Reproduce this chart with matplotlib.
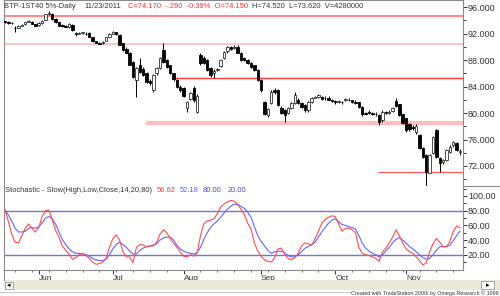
import numpy as np
import pandas as pd
import matplotlib
matplotlib.use("Agg")
import matplotlib.pyplot as plt
from matplotlib.ticker import MultipleLocator, FormatStrFormatter, FixedLocator
from matplotlib.patches import Rectangle
from matplotlib.lines import Line2D

plt.rcParams['font.family'] = ['Liberation Sans', 'DejaVu Sans']

# ---------- data ----------
dates = pd.bdate_range('2011-05-18', '2011-11-23')

opens = [
    93.85, 93.70, 93.65, 92.90, 92.90, 93.20, 93.40, 93.80, 93.80, 93.45,
    93.30, 93.60, 94.10, 95.00, 95.00, 94.20, 93.70, 93.30, 93.15, 93.00,
    93.30, 92.10, 92.00, 92.10, 92.00, 92.10, 91.40, 90.80, 90.60, 90.50,
    90.90, 91.50, 92.00, 92.20, 91.80, 90.50, 89.70, 89.10, 87.70, 85.00,
    87.20, 86.70, 86.00, 84.90, 83.40, 86.00, 86.80, 89.50, 88.00, 87.20,
    86.00, 85.00, 84.00, 83.80, 80.80, 82.10, 83.70, 80.20, 88.70, 88.30,
    88.00, 86.80, 86.00, 86.50, 87.10, 88.30, 89.30, 89.90, 89.80, 90.00,
    89.10, 88.30, 88.00, 87.50, 87.20, 86.50, 85.00, 81.60, 79.70, 81.50,
    83.40, 83.40, 80.80, 80.40, 80.00, 80.80, 81.50, 82.00, 81.50, 81.20,
    80.40, 81.70, 82.30, 82.40, 82.40, 82.20, 82.30, 82.00, 81.80, 81.70,
    81.70, 81.90, 82.00, 81.90, 81.70, 81.60, 80.90, 80.00, 80.10, 80.00,
    79.90, 79.70, 78.90, 80.10, 80.00, 80.30, 81.80, 81.30, 79.80, 79.20,
    78.30, 77.90, 77.10, 76.70, 74.70, 73.70, 71.00, 74.00, 77.40, 73.20,
    72.60, 72.90, 74.10, 75.10, 75.40, 74.15]
highs = [
    93.95, 93.85, 93.75, 93.10, 93.30, 93.40, 93.80, 94.10, 93.90, 93.50,
    93.70, 94.00, 95.00, 95.40, 95.10, 94.30, 93.80, 93.45, 93.30, 93.60,
    93.40, 92.30, 92.30, 92.30, 92.20, 92.20, 91.50, 90.90, 90.75, 90.80,
    91.50, 92.10, 92.40, 92.30, 91.90, 90.60, 89.90, 89.20, 87.90, 87.00,
    88.30, 86.90, 86.20, 85.10, 85.90, 87.00, 88.50, 90.60, 88.20, 87.30,
    86.10, 85.10, 84.20, 83.90, 81.80, 83.20, 84.10, 82.80, 89.00, 88.60,
    88.10, 87.00, 86.60, 86.80, 88.20, 89.40, 90.10, 90.10, 90.20, 90.30,
    89.20, 88.50, 88.20, 87.70, 87.30, 86.60, 85.10, 81.80, 80.80, 83.40,
    83.80, 83.60, 81.00, 80.60, 80.90, 81.70, 83.20, 82.20, 81.70, 81.30,
    81.80, 82.40, 82.60, 82.90, 82.60, 82.50, 82.50, 82.10, 82.00, 82.00,
    81.80, 82.30, 82.20, 82.00, 81.90, 81.70, 81.00, 80.20, 80.45, 80.10,
    80.10, 79.80, 80.40, 80.30, 80.40, 80.90, 82.30, 81.40, 79.90, 79.30,
    78.50, 78.20, 78.30, 76.80, 74.80, 73.80, 73.80, 76.60, 77.60, 73.40,
    73.10, 74.60, 75.10, 75.80, 75.60, 74.52]
lows = [
    93.60, 93.50, 93.45, 92.30, 92.80, 93.10, 93.30, 93.70, 93.40, 93.10,
    93.20, 93.50, 94.00, 94.80, 94.10, 93.60, 93.10, 92.95, 92.95, 92.90,
    92.40, 91.60, 91.90, 92.00, 91.80, 91.40, 90.70, 90.50, 90.40, 90.40,
    90.80, 91.40, 91.90, 91.80, 90.20, 89.40, 89.00, 87.20, 85.30, 82.40,
    86.00, 85.60, 84.50, 84.20, 83.10, 85.80, 86.60, 87.60, 86.80, 85.90,
    84.90, 83.80, 83.10, 82.40, 80.10, 81.90, 81.70, 80.00, 87.30, 87.40,
    86.30, 85.50, 85.30, 86.30, 87.00, 88.10, 89.10, 89.50, 89.60, 89.00,
    87.90, 87.80, 87.40, 86.80, 86.30, 84.90, 83.20, 79.70, 79.40, 81.30,
    82.90, 81.00, 79.80, 78.60, 79.80, 80.60, 81.30, 81.30, 80.70, 80.20,
    80.20, 81.50, 82.20, 82.30, 82.00, 82.00, 81.90, 81.60, 81.40, 81.50,
    81.40, 81.80, 81.80, 81.50, 81.40, 80.80, 79.60, 79.70, 79.80, 79.70,
    79.60, 78.20, 78.70, 79.80, 79.90, 80.10, 80.90, 79.60, 78.30, 77.20,
    77.30, 77.40, 76.90, 74.50, 73.20, 69.00, 70.90, 73.80, 73.20, 71.10,
    72.30, 72.70, 73.90, 74.90, 74.30, 73.62]
closes = [
    93.70, 93.65, 93.55, 92.80, 93.20, 93.30, 93.70, 93.95, 93.50, 93.20,
    93.60, 93.90, 94.90, 95.10, 94.20, 93.70, 93.20, 93.10, 93.05, 93.40,
    92.50, 92.00, 92.10, 92.15, 91.90, 91.50, 90.80, 90.60, 90.45, 90.70,
    91.40, 91.90, 92.20, 91.90, 90.30, 89.50, 89.10, 87.30, 85.50, 86.80,
    86.20, 85.80, 84.70, 84.50, 85.70, 86.80, 88.30, 87.70, 87.00, 86.00,
    85.10, 84.00, 83.40, 82.60, 81.60, 83.00, 81.90, 82.60, 87.50, 87.60,
    86.50, 85.80, 86.40, 86.60, 88.00, 89.20, 89.90, 89.70, 90.00, 89.10,
    88.00, 88.00, 87.60, 87.00, 86.50, 85.00, 83.50, 79.90, 80.60, 83.20,
    83.10, 81.20, 80.00, 79.70, 80.70, 81.50, 82.70, 81.50, 80.90, 80.40,
    81.60, 82.20, 82.40, 82.70, 82.10, 82.30, 82.00, 81.80, 81.60, 81.80,
    81.60, 82.10, 81.90, 81.70, 81.50, 80.90, 79.80, 79.90, 80.00, 79.90,
    79.80, 78.70, 80.20, 80.00, 80.20, 80.80, 81.00, 79.70, 78.50, 77.40,
    77.60, 77.70, 78.00, 74.70, 73.40, 71.10, 73.60, 76.40, 73.40, 72.50,
    72.90, 74.40, 74.90, 75.60, 74.46, 74.17]

# stochastic slow %K (red) and %D (blue)
stoch_k = [
    81, 65, 48, 37, 36, 46, 56, 62, 56, 51,
    57, 72, 80, 81, 68, 53, 44, 32, 26, 21,
    14, 16, 20, 22, 19, 15, 10, 7, 8, 10,
    15, 30, 42, 47, 40, 24, 17, 17, 9, 30,
    34, 33, 31, 32, 32, 37, 48, 54, 50, 42,
    36, 30, 24, 18, 17, 20, 18, 22, 46, 62,
    66, 67, 69, 76, 85, 89, 92, 94, 93, 89,
    82, 75, 63, 55, 36, 25, 18, 13, 11, 10,
    16, 28, 29, 21, 15, 13, 16, 22, 32, 36,
    35, 33, 42, 52, 63, 68, 71, 73, 72, 62,
    52, 56, 56, 54, 50, 30, 22, 20, 19, 17,
    15, 11, 24, 29, 36, 44, 54, 46, 36, 28,
    24, 22, 17, 12, 6, 9, 24, 35, 42, 37,
    31, 31, 38, 52, 59, 56.62]
stoch_d = [
    81, 74, 66, 56, 51, 51, 52, 56, 57, 56,
    58, 63, 70, 72, 69, 62, 51, 41, 34, 28,
    24, 22, 22, 21, 20, 18, 15, 13, 12, 12,
    14, 20, 28, 34, 37, 34, 30, 25, 21, 21,
    26, 29, 31, 32, 33, 35, 40, 43, 44, 44,
    40, 33, 28, 25, 23, 22, 21, 23, 30, 41,
    50, 57, 62, 66, 71, 77, 82, 86, 89, 88,
    86, 83, 78, 71, 58, 46, 38, 32, 26, 22,
    24, 25, 25, 22, 19, 17, 17, 20, 24, 29,
    31, 34, 37, 44, 51, 57, 63, 67, 69, 65,
    61, 60, 58, 57, 55, 46, 36, 29, 25, 22,
    20, 17, 20, 25, 30, 36, 41, 43, 40, 36,
    31, 28, 24, 20, 16, 14, 15, 20, 26, 31,
    31, 31, 33, 39, 46, 52.18]

# horizontal trend/support lines drawn on the price pane
level_prices = [94.64, 90.46, 85.24, 78.54, 71.05]
level_starts = ['2011-05-18', '2011-05-18', '2011-07-27', '2011-07-15', '2011-10-20']
level_colors = ['#ff8c8c', '#ffb3b3', '#ff3a3a', '#ffbcbc', '#ff5a5a']
level_widths = [1.5, 1.1, 1.0, 3.0, 0.9]

stoch_levels = [80, 20]
month_labels = ['Jun', 'Jul', 'Aug', 'Sep', 'Oct', 'Nov']

# ---------- figure ----------
W, H = 500, 296
def fx(px):
    return px / W
def fy(py):
    return 1 - py / H

fig = plt.figure(figsize=(5, 2.96), dpi=100)
ax = fig.add_axes([fx(4), fy(186), fx(463) - fx(4), fy(0) - fy(186)])
ax2 = fig.add_axes([fx(4), fy(270), fx(463) - fx(4), fy(186) - fy(270)], sharex=ax)

n = len(dates)
x = np.arange(n)
O = np.array(opens); Hh = np.array(highs); L = np.array(lows); C = np.array(closes)
up = C >= O
bot = np.minimum(O, C)
hgt = np.maximum(np.abs(C - O), 0.07)

ax.vlines(x, L, Hh, color='black', lw=0.7, zorder=2)
ax.bar(x[up], hgt[up], bottom=bot[up], width=0.72, facecolor='white',
       edgecolor='#303030', lw=0.6, zorder=3)
ax.bar(x[~up], hgt[~up], bottom=bot[~up], width=0.72, facecolor='black',
       edgecolor='black', lw=0.6, zorder=3)

xmax = n - 1 + 0.9
for lv, st, col, lw in zip(level_prices, level_starts, level_colors, level_widths):
    s = dates.get_loc(pd.Timestamp(st)) - 0.3
    ax.plot([s, xmax], [lv, lv], color=col, lw=lw, solid_capstyle='butt', zorder=1)

ax.set_xlim(-0.3, xmax)
ax.set_ylim(68.98, 97.06)

gray = '#8a8a8a'
for a in (ax, ax2):
    a.yaxis.tick_right()
    a.tick_params(axis='y', which='major', direction='out', length=3, width=0.7,
                  pad=0.5, labelsize=6.5, colors='#333333')
    a.tick_params(axis='y', which='minor', direction='out', length=2, width=0.7,
                  colors='#333333')
    for sp in a.spines.values():
        sp.set_color(gray)
        sp.set_linewidth(0.8)

ax.yaxis.set_major_locator(MultipleLocator(4))
ax.yaxis.set_minor_locator(MultipleLocator(2))
ax.yaxis.set_major_formatter(FormatStrFormatter('%.3f'))
ax.spines['bottom'].set_visible(False)
ax.tick_params(axis='x', which='both', bottom=False, labelbottom=False)

# stochastic pane
ax2.plot(x, stoch_d, color='#6464ff', lw=0.8, zorder=3)
ax2.plot(x, stoch_k, color='#ff4d4d', lw=0.8, zorder=4)
for lv in stoch_levels:
    ax2.axhline(lv, color='#7474d4', lw=1.0, zorder=2)
ax2.set_ylim(-0.8, 113.6)
ax2.yaxis.set_major_locator(FixedLocator([20, 40, 60, 80, 100]))
ax2.yaxis.set_minor_locator(FixedLocator([10, 30, 50, 70, 90, 110]))
ax2.yaxis.set_major_formatter(FormatStrFormatter('%.2f'))
ax2.spines['top'].set_visible(False)

month_pos = [i for i in range(n) if i == 0 or dates[i].month != dates[i - 1].month][1:]
week_pos = [i for i in range(n) if dates[i].weekday() == 0 and i not in month_pos]
ax2.xaxis.set_major_locator(FixedLocator(month_pos))
ax2.xaxis.set_minor_locator(FixedLocator(week_pos))
ax2.set_xticklabels(month_labels)
ax2.tick_params(axis='x', which='major', direction='out', length=3, width=0.7,
                pad=0.5, labelsize=6, colors='#333333')
ax2.tick_params(axis='x', which='minor', direction='out', length=1.5, width=0.6,
                colors='#555555')
for lbl in ax2.get_xticklabels():
    lbl.set_ha('left')

# header texts
fs = 5.4
fig.text(fx(4), fy(6), 'BTP-1ST40 5%-Daily', fontsize=fs, color='#333333', va='center')
fig.text(fx(84), fy(6), '11/23/2011', fontsize=fs, color='#333333', va='center')
fig.text(fx(128), fy(6), 'C=74.170  -.290  -0.39%  O=74.150', fontsize=fs,
         color='#ff3030', va='center')
fig.text(fx(252), fy(6), 'H=74.520  L=73.620  V=4280000', fontsize=fs,
         color='#333333', va='center')

fig.text(fx(5), fy(191), 'Stochastic - Slow(High,Low,Close,14,20,80)', fontsize=fs,
         color='#333333', va='center')
fig.text(fx(157), fy(191), '56.62', fontsize=fs, color='#ff3a3a', va='center')
fig.text(fx(180), fy(191), '52.18', fontsize=fs, color='#5a5aff', va='center')
fig.text(fx(203), fy(191), '80.00', fontsize=fs, color='#4a4ab0', va='center')
fig.text(fx(228), fy(191), '20.00', fontsize=fs, color='#4a4ab0', va='center')

# separator on the price scale column
fig.add_artist(Line2D([fx(463), 1], [fy(186), fy(186)], color=gray, lw=0.8))
fig.add_artist(Line2D([fx(4), fx(4)], [fy(270), fy(280)], color=gray, lw=0.8))

# scroll bar strip at the bottom
fig.add_artist(Rectangle((fx(4), fy(290)), fx(500) - fx(4), fy(280) - fy(290),
                         transform=fig.transFigure, fc='#ece9d8', ec='none'))
fig.add_artist(Rectangle((fx(5), fy(289)), fx(8), fy(0) - fy(7),
                         transform=fig.transFigure, fc='white', ec='#999999', lw=0.6))
fig.text(fx(9), fy(285.5), '◂', fontsize=5, ha='center', va='center', color='black')
fig.add_artist(Rectangle((fx(481), fy(289)), fx(13), fy(0) - fy(8),
                         transform=fig.transFigure, fc='white', ec='#999999', lw=0.6))
fig.text(fx(487.5), fy(285.5), '▸', fontsize=5, ha='center', va='center', color='black')
fig.add_artist(Line2D([0, fx(350)], [fy(292), fy(292)], color='#c8c8c8', lw=0.8))
fig.text(fx(499), fy(293), 'Created with TradeStation 2000i by Omega Research © 1999',
         fontsize=3.9, color='#333333', va='center', ha='right')

fig.savefig('out.png', dpi=100)
